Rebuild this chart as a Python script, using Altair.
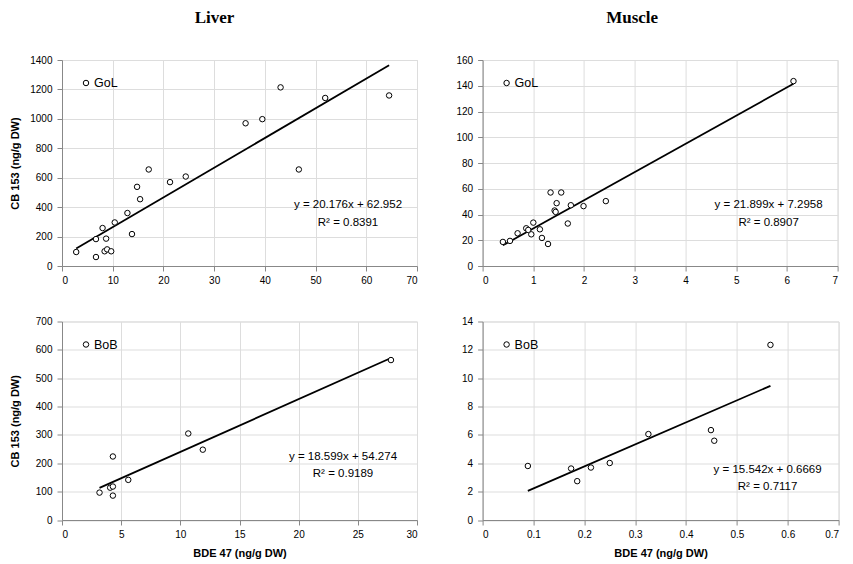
import altair as alt
import pandas as pd

FONT = "Liberation Sans"

# ---------------- data ----------------
# Liver, GoL
liver_gol_bde = [2.8, 6.7, 6.7, 8.0, 8.7, 8.4, 8.9, 9.7, 10.4, 12.9, 13.8, 14.8, 15.4, 17.1, 21.3, 24.4, 36.2, 39.5, 43.1, 46.7, 51.9, 64.5]
liver_gol_cb = [95, 61, 183, 258, 186, 100, 113, 100, 296, 360, 217, 538, 454, 656, 570, 608, 970, 998, 1214, 656, 1142, 1159]
liver_gol_fit = (20.176, 62.952)
liver_gol_eq = ["y = 20.176x + 62.952", "R² = 0.8391"]

# Muscle, GoL
muscle_gol_bde = [0.40, 0.54, 0.69, 0.86, 0.90, 0.96, 1.00, 1.13, 1.17, 1.29, 1.34, 1.42, 1.44, 1.46, 1.55, 1.68, 1.74, 1.99, 2.43, 6.13]
muscle_gol_cb = [18.7, 19.5, 25.4, 29.3, 28.0, 24.6, 33.7, 28.5, 21.8, 17.1, 57.1, 43.1, 42.0, 48.8, 57.1, 33.0, 47.2, 46.5, 50.4, 143.6]
muscle_gol_fit = (21.899, 7.2958)
muscle_gol_eq = ["y = 21.899x + 7.2958", "R² = 0.8907"]

# Liver, BoB
liver_bob_bde = [3.17, 4.07, 4.3, 4.3, 4.3, 5.6, 10.67, 11.9, 27.8]
liver_bob_cb = [96.6, 114, 118, 86, 224, 141.5, 305, 248, 564]
liver_bob_fit = (18.599, 54.274)
liver_bob_eq = ["y = 18.599x + 54.274", "R² = 0.9189"]

# Muscle, BoB
muscle_bob_bde = [0.089, 0.174, 0.186, 0.213, 0.250, 0.326, 0.449, 0.4555, 0.566]
muscle_bob_cb = [3.81, 3.63, 2.74, 3.70, 4.02, 6.06, 6.34, 5.59, 12.35]
muscle_bob_fit = (15.542, 0.6669)
muscle_bob_eq = ["y = 15.542x + 0.6669", "R² = 0.7117"]

# axis ticks
liver_gol_xticks = [0, 10, 20, 30, 40, 50, 60, 70]
liver_gol_yticks = [0, 200, 400, 600, 800, 1000, 1200, 1400]
muscle_gol_xticks = [0, 1, 2, 3, 4, 5, 6, 7]
muscle_gol_yticks = [0, 20, 40, 60, 80, 100, 120, 140, 160]
liver_bob_xticks = [0, 5, 10, 15, 20, 25, 30]
liver_bob_yticks = [0, 100, 200, 300, 400, 500, 600, 700]
muscle_bob_xticks = [0, 0.1, 0.2, 0.3, 0.4, 0.5, 0.6, 0.7]
muscle_bob_yticks = [0, 2, 4, 6, 8, 10, 12, 14]

col_titles = ["Liver", "Muscle"]
group_tags = ["GoL", "BoB"]
x_title = "BDE 47 (ng/g DW)"
y_title = "CB 153 (ng/g DW)"


def panel(xs, ys, fit, eq, tag, xticks, yticks, w, h, left, bottom, title, eq_xy, title_dx):
    df = pd.DataFrame({"x": xs, "y": ys})
    slope, icpt = fit
    xmin, xmax = min(xs), max(xs)
    line_df = pd.DataFrame({"x": [xmin, xmax], "y": [slope * xmin + icpt, slope * xmax + icpt]})

    xscale = alt.Scale(domain=[xticks[0], xticks[-1]], nice=False, zero=False)
    yscale = alt.Scale(domain=[yticks[0], yticks[-1]], nice=False, zero=False)
    xaxis = alt.Axis(values=xticks, format=".2~f", labelPadding=4, titlePadding=8,
                     title=x_title if bottom else None)
    if left:
        yaxis = alt.Axis(values=yticks, format=".2~f", labelPadding=5, title=y_title,
                         titlePadding=12, minExtent=30, maxExtent=30)
    else:
        yaxis = alt.Axis(values=yticks, format=".2~f", labelPadding=5, title=None)

    xenc = alt.X("x:Q", scale=xscale, axis=xaxis)
    yenc = alt.Y("y:Q", scale=yscale, axis=yaxis)

    line = alt.Chart(line_df).mark_line(color="black", strokeWidth=1.8).encode(x=xenc, y=yenc)
    pts = alt.Chart(df).mark_point(shape="circle", size=30, filled=True, fill="white",
                                   stroke="black", strokeWidth=1, opacity=1).encode(x=xenc, y=yenc)

    tag_df = pd.DataFrame({"t": [tag]})
    tag_pt = alt.Chart(tag_df).mark_point(shape="circle", size=30, filled=True, fill="white",
                                          stroke="black", strokeWidth=1, opacity=1).encode(
        x=alt.value(24), y=alt.value(23))
    tag_txt = alt.Chart(tag_df).mark_text(align="left", baseline="middle", font=FONT,
                                          fontSize=12.5, color="black").encode(
        x=alt.value(32), y=alt.value(23), text="t:N")

    eq_df = pd.DataFrame({"t": [eq[0]]})
    r2_df = pd.DataFrame({"t": [eq[1]]})
    ex, ey = eq_xy
    eq_txt = alt.Chart(eq_df).mark_text(align="center", baseline="middle", font=FONT,
                                        fontSize=11.5, color="black").encode(
        x=alt.value(ex), y=alt.value(ey), text="t:N")
    r2_txt = alt.Chart(r2_df).mark_text(align="center", baseline="middle", font=FONT,
                                        fontSize=11.5, color="black").encode(
        x=alt.value(ex), y=alt.value(ey + 17.5), text="t:N")

    ch = alt.layer(line, pts, tag_pt, tag_txt, eq_txt, r2_txt)
    if title:
        ch = ch.properties(title=alt.TitleParams(text=title, font="Liberation Serif", fontSize=17,
                                                 fontWeight="bold", anchor="middle", offset=28,
                                                 color="black", dx=title_dx))
    return ch.properties(width=w, height=h)


p1 = panel(liver_gol_bde, liver_gol_cb, liver_gol_fit, liver_gol_eq, group_tags[0],
           liver_gol_xticks, liver_gol_yticks, 355, 206, True, False, col_titles[0], (286, 145), -25)
p2 = panel(muscle_gol_bde, muscle_gol_cb, muscle_gol_fit, muscle_gol_eq, group_tags[0],
           muscle_gol_xticks, muscle_gol_yticks, 355, 206, False, False, col_titles[1], (286, 145), -28)
p3 = panel(liver_bob_bde, liver_bob_cb, liver_bob_fit, liver_bob_eq, group_tags[1],
           liver_bob_xticks, liver_bob_yticks, 355, 198.5, True, True, None, (281, 135), 0)
p4 = panel(muscle_bob_bde, muscle_bob_cb, muscle_bob_fit, muscle_bob_eq, group_tags[1],
           muscle_bob_xticks, muscle_bob_yticks, 356, 198.5, False, True, None, (285, 148), 0)

chart = alt.concat(p1, p2, p3, p4, columns=2, bounds="flush",
                   spacing=alt.RowColnumber(row=55.5, column=65.6)).properties(
    padding={"left": 0, "top": 0, "right": 0, "bottom": 0}
).configure_view(stroke=None).configure_axis(
    domainColor="black", tickColor="black", labelColor="black", labelFont=FONT,
    labelFontSize=11.5, titleFont=FONT, titleFontSize=11, titleFontWeight="bold",
    titleColor="black", grid=False, tickSize=4, domainWidth=1, tickWidth=1
).configure(background="white")

chart.save("out.html", embed_options={"renderer": "svg", "actions": False})
